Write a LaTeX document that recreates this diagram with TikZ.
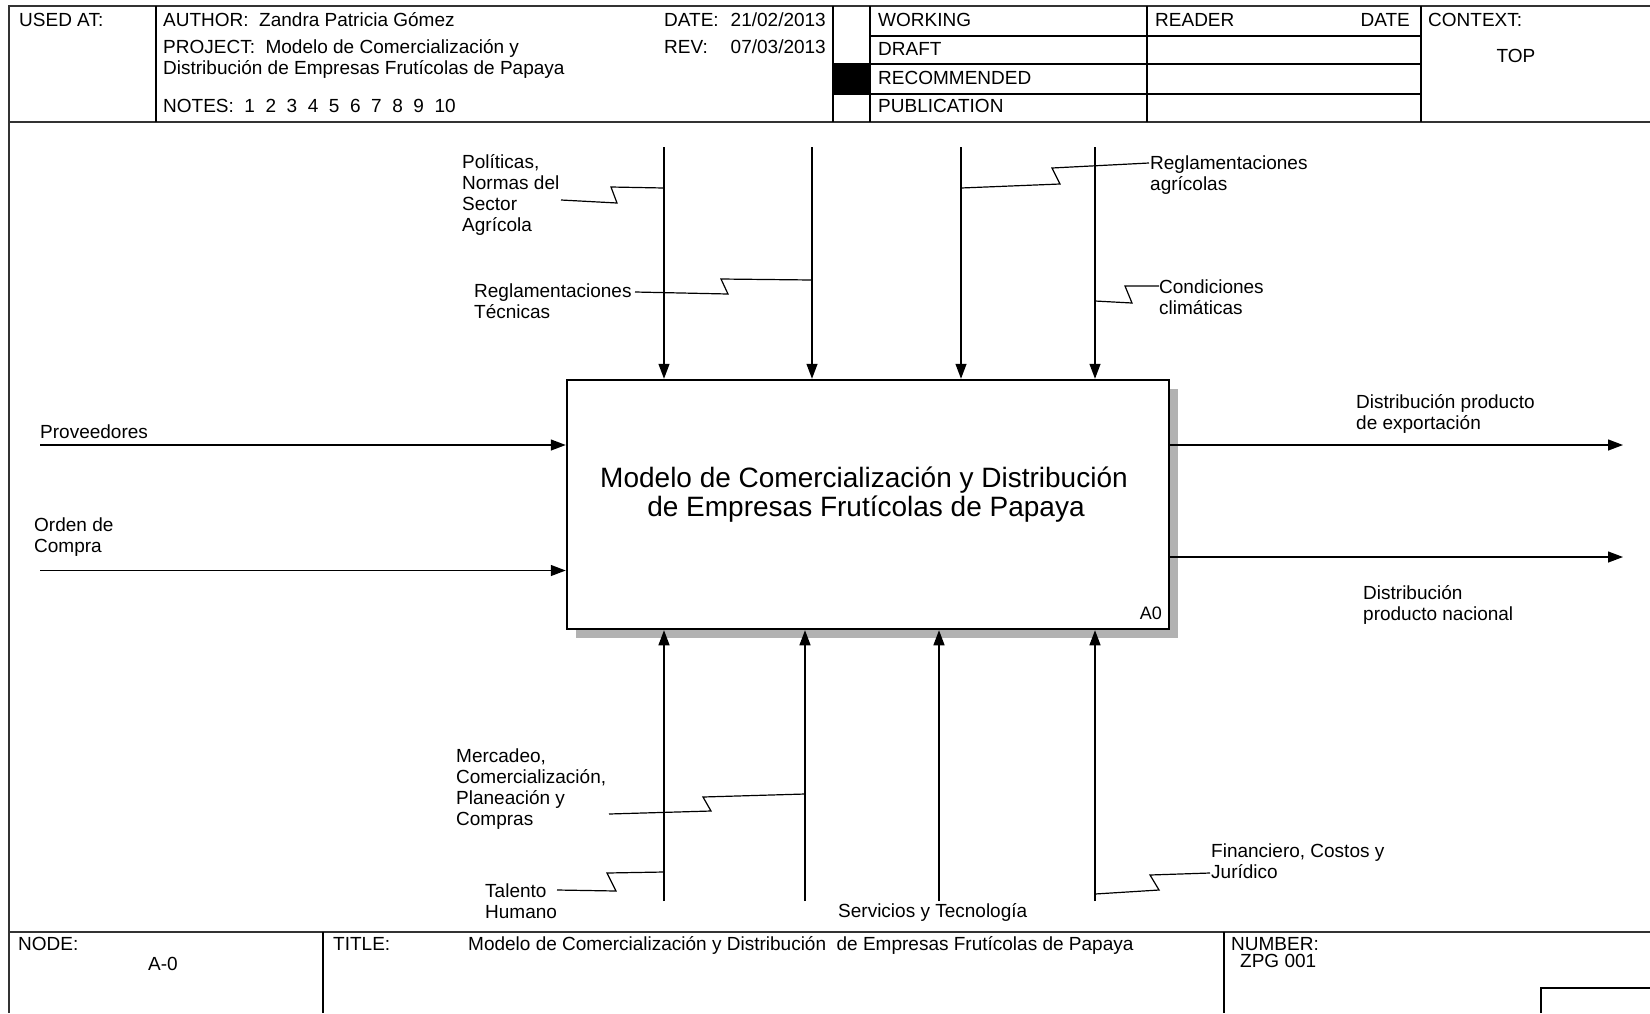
\documentclass[tikz,border=0pt]{standalone}
\usepackage{fontspec}
\setmainfont{Liberation Sans}
\usetikzlibrary{arrows.meta,shadows}
\begin{document}
\begin{tikzpicture}[x=1pt,y=-1pt,
  txt/.style={anchor=base west,inner sep=0pt,font=\fontsize{19}{21}\selectfont},
  txtc/.style={txt,anchor=base},
  txte/.style={txt,anchor=base east},
  frameline/.style={line width=2pt,draw=black!80},
  rule/.style={line width=1.2pt,draw=black},
  flow/.style={line width=1.3pt,-{Triangle[length=15pt,width=11pt]}},
  squig/.style={line width=1.2pt,line join=miter}]
\useasboundingbox (0,0) rectangle (1650,1013);
\fill[white] (0,0) rectangle (1650,1013);

% ---------- outer frame ----------
\draw[frameline] (1650,6) -- (9,6) -- (9,1013);
\draw[frameline] (9,122) -- (1650,122);
\draw[frameline] (9,932) -- (1650,932);

% ---------- header block ----------
\foreach \xx in {156,833,870,1147,1421}
  \draw[rule] (\xx,6) -- (\xx,122);
\draw[rule] (870,36) -- (1421,36);
\draw[rule] (833,64) -- (1421,64);
\draw[rule] (833,94) -- (1421,94);
\fill[black] (833,64) rectangle (870,94);

\node[txt] (usedat) at (19,26) {USED AT:};
\node[txt] (author) at (163,26) {AUTHOR:~~Zandra Patricia Gómez};
\node[txt] (project) at (163,53) {PROJECT:~~Modelo de Comercialización y};
\node[txt] (project2) at (163,74) {Distribución de Empresas Frutícolas de Papaya};
\node[txt] (notes) at (163,112) {NOTES:~~1~~2~~3~~4~~5~~6~~7~~8~~9~~10};
\node[txt] (datelbl) at (664,26) {DATE:};
\node[txte] (dateval) at (826,26) {21/02/2013};
\node[txt] (revlbl) at (664,53) {REV:};
\node[txte] (revval) at (826,53) {07/03/2013};
\node[txt] (working) at (878,26) {WORKING};
\node[txt] (draft) at (878,55) {DRAFT};
\node[txt] (recom) at (878,84) {RECOMMENDED};
\node[txt] (public) at (878,112) {PUBLICATION};
\node[txt] (reader) at (1155,26) {READER};
\node[txte] (rdate) at (1410,26) {DATE};
\node[txt] (context) at (1428,26) {CONTEXT:};
\node[txtc] (top) at (1516,62) {TOP};

% ---------- footer block ----------
\draw[rule] (323,932) -- (323,1013);
\draw[rule] (1224,932) -- (1224,1013);
\draw[rule] (1541,1013) -- (1541,988) -- (1650,988);
\node[txt] (nodelbl) at (18,950) {NODE:};
\node[txtc] (nodeval) at (163,970) {A-0};
\node[txt] (titlelbl) at (333,950) {TITLE:};
\node[txt] (titleval) at (468,950) {Modelo de Comercialización y Distribución~~de Empresas Frutícolas de Papaya};
\node[txt] (numlbl) at (1231,950) {NUMBER:};
\node[txt] (numval) at (1240,967) {ZPG 001};

% ---------- activity box ----------
\node[draw,line width=2.5pt,fill=white,minimum width=602pt,minimum height=249pt,inner sep=0pt,
      drop shadow={shadow xshift=9pt,shadow yshift=-9pt,fill=black!30,opacity=1}]
      (box) at (868,504.5) {};
\node[anchor=base,inner sep=0pt,font=\fontsize{28}{30}\selectfont] (boxt1) at (864,487)
      {Modelo de Comercialización y Distribución};
\node[anchor=base,inner sep=0pt,font=\fontsize{28}{30}\selectfont] (boxt2) at (866,516)
      {de Empresas Frutícolas de Papaya};
\node[txte,font=\fontsize{18}{20}\selectfont] (boxid) at (1162,619) {A0};

% ---------- controls (top) ----------
\foreach \nm/\xx in {ca/664,cb/812,cc/961,cd/1095}{
  \coordinate (\nm) at (\xx,147);
  \draw[flow] (\nm) -- (\nm |- box.north);
}

% ---------- mechanisms (bottom) ----------
\foreach \nm/\xx in {ma/664,mb/805,mc/939,md/1095}{
  \coordinate (\nm) at (\xx,901);
  \draw[flow] (\nm) -- (\nm |- box.south);
}

% ---------- inputs ----------
\coordinate (ia) at (40,445);
\coordinate (ib) at (40,570.5);
\draw[flow] (ia) -- (ia -| box.west);
\draw[flow] (ib) -- (ib -| box.west);

% ---------- outputs ----------
\coordinate (oa) at (1623,445);
\coordinate (ob) at (1623,557);
\draw[flow] (oa -| box.east) -- (oa);
\draw[flow] (ob -| box.east) -- (ob);

% ---------- labels ----------
\node[txt] (prov) at (40,438) {Proveedores};
\node[txt] (ord1) at (34,531) {Orden de};
\node[txt] (ord2) at (34,552) {Compra};

\node[txt] (exp1) at (1356,408) {Distribución producto};
\node[txt] (exp2) at (1356,429) {de exportación};
\node[txt] (nac1) at (1363,599) {Distribución};
\node[txt] (nac2) at (1363,620) {producto nacional};

\node[txt] (pol1) at (462,168) {Políticas,};
\node[txt] (pol2) at (462,189) {Normas del};
\node[txt] (pol3) at (462,210) {Sector};
\node[txt] (pol4) at (462,231) {Agrícola};

\node[txt] (rt1) at (474,297) {Reglamentaciones};
\node[txt] (rt2) at (474,318) {Técnicas};

\node[txt] (ra1) at (1150,169) {Reglamentaciones};
\node[txt] (ra2) at (1150,190) {agrícolas};

\node[txt] (cl1) at (1159,293) {Condiciones};
\node[txt] (cl2) at (1159,314) {climáticas};

\node[txt] (me1) at (456,762) {Mercadeo,};
\node[txt] (me2) at (456,783) {Comercialización,};
\node[txt] (me3) at (456,804) {Planeación y};
\node[txt] (me4) at (456,825) {Compras};

\node[txt] (ta1) at (485,897) {Talento};
\node[txt] (ta2) at (485,918) {Humano};

\node[txt] (st) at (838,917) {Servicios y Tecnología};

\node[txt] (fi1) at (1211,857) {Financiero, Costos y};
\node[txt] (fi2) at (1211,878) {Jurídico};

% ---------- label tildes ----------
\coordinate (s1) at (561,200);
\draw[squig] (s1) -- (617,203) -- (611,187) -- (ca |- 0,188);
\coordinate (s2) at (635,292);
\draw[squig] (s2) -- (728,294) -- (721,279) -- (cb |- 0,280);
\coordinate (s3) at (1149,163);
\draw[squig] (cc |- 0,188) -- (1060,184) -- (1052,168) -- (s3);
\coordinate (s4) at (1159,286);
\draw[squig] (cd |- 0,301) -- (1132,303) -- (1125,286) -- (s4);
\coordinate (s5) at (609,814);
\draw[squig] (s5) -- (711,811) -- (703,797) -- (mb |- 0,794);
\coordinate (s6) at (557,890);
\draw[squig] (s6) -- (616,891) -- (607,873) -- (ma |- 0,872);
\coordinate (s7) at (1210,873);
\draw[squig] (md |- 0,894) -- (1159,890) -- (1150,875) -- (s7);
\end{tikzpicture}
\end{document}
